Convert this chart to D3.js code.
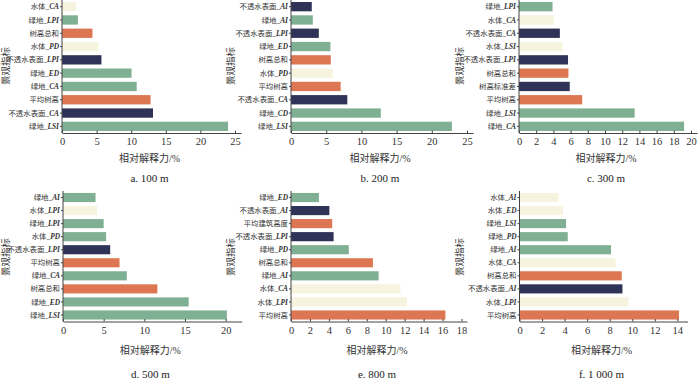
<!DOCTYPE html>
<html><head><meta charset="utf-8">
<script src="https://cdn.jsdelivr.net/npm/d3@7"></script>
<style>
body{margin:0;background:#fff;}
svg{display:block;}
</style></head>
<body>
<svg id="c" width="700" height="380"></svg>
<script>
// ---- data (top to bottom in each panel) ----
const labelsA = ["水体_CA","绿地_LPI","树高总和","水体_PD","不透水表面_LPI","绿地_ED","绿地_CA","平均树高","不透水表面_CA","绿地_LSI"];
const valuesA = [2.0, 2.3, 4.4, 5.25, 5.7, 10.05, 10.8, 12.8, 13.15, 24.0];
const typesA  = ["water","green","tree","water","imp","green","green","tree","imp","green"];

const labelsB = ["不透水表面_AI","绿地_AI","不透水表面_LPI","绿地_ED","树高总和","水体_PD","平均树高","不透水表面_CA","绿地_CD","绿地_LSI"];
const valuesB = [2.95, 3.1, 3.95, 5.6, 5.65, 5.95, 7.05, 8.0, 12.75, 22.85];
const typesB  = ["imp","green","imp","green","tree","water","tree","imp","green","green"];

const labelsC = ["绿地_LPI","水体_CA","不透水表面_CA","水体_LSI","不透水表面_LPI","树高总和","树高标准差","平均树高","绿地_LSI","绿地_CA"];
const valuesC = [3.9, 4.05, 4.75, 5.05, 5.7, 5.75, 5.9, 7.35, 13.45, 19.2];
const typesC  = ["green","water","imp","water","imp","tree","imp","tree","green","green"];

const labelsD = ["绿地_AI","水体_LPI","绿地_LPI","水体_PD","不透水表面_LPI","平均树高","绿地_CA","树高总和","绿地_ED","绿地_LSI"];
const valuesD = [4.0, 4.2, 5.0, 5.3, 5.8, 6.95, 7.85, 11.6, 15.45, 20.15];
const typesD  = ["green","water","green","green","imp","tree","green","tree","green","green"];

const labelsE = ["绿地_ED","不透水表面_AI","平均建筑高度","不透水表面_LPI","绿地_PD","树高总和","绿地_AI","水体_CA","水体_LPI","平均树高"];
const valuesE = [2.95, 4.05, 4.35, 4.5, 6.1, 8.65, 9.25, 11.55, 12.25, 16.3];
const typesE  = ["green","imp","tree","imp","green","tree","green","water","water","tree"];

const labelsF = ["水体_AI","水体_ED","绿地_LSI","绿地_PD","绿地_AI","水体_CA","树高总和","不透水表面_AI","水体_LPI","平均树高"];
const valuesF = [3.45, 3.87, 4.13, 4.28, 8.12, 8.52, 9.07, 9.13, 9.67, 14.15];
const typesF  = ["water","water","green","green","green","water","tree","imp","water","tree"];

const ticksA = [0,5,10,15,20,25];
const ticksB = [0,5,10,15,20,25];
const ticksC = [0,2,4,6,8,10,12,14,16,18,20];
const ticksD = [0,5,10,15,20];
const ticksE = [0,2,4,6,8,10,12,14,16,18];
const ticksF = [0,2,4,6,8,10,12,14];

const captions = ["a.  100 m","b.  200 m","c.  300 m","d.  500 m","e.  800 m","f.  1 000 m"];
const xTitle = "相对解释力/%";
const yTitle = "景观指标";

// ---- styles / layout ----
const palette = {green:"#80b093", imp:"#2e3357", tree:"#dc7653", water:"#f6f3de"};
const serif = "'Liberation Serif','Noto Sans CJK SC',serif";

const panels = [
  {labels:labelsA, values:valuesA, types:typesA, ticks:ticksA, x0:62,  x1:241,   dmax:25.87, row:0, tx:6},
  {labels:labelsB, values:valuesB, types:typesB, ticks:ticksB, x0:291, x1:473,   dmax:25.85, row:0, tx:231},
  {labels:labelsC, values:valuesC, types:typesC, ticks:ticksC, x0:519, x1:697,   dmax:20.7,  row:0, tx:460},
  {labels:labelsD, values:valuesD, types:typesD, ticks:ticksD, x0:63,  x1:241.7, dmax:21.97, row:1, tx:6},
  {labels:labelsE, values:valuesE, types:typesE, ticks:ticksE, x0:291, x1:467,   dmax:18.58, row:1, tx:231},
  {labels:labelsF, values:valuesF, types:typesF, ticks:ticksF, x0:519.5,x1:687.5, dmax:14.9,  row:1, tx:460}
];
const rows = [
  {top:0, bottom:133, tickY:140, titleY:158, capY:178, yMid:66},
  {top:191, bottom:321.5, tickY:329, titleY:350, capY:374, yMid:257}
];

const svg = d3.select("#c");

panels.forEach((p, i) => {
  const r = rows[p.row];
  const x = d3.scaleLinear().domain([0, p.dmax]).range([p.x0, p.x1]);
  const y = d3.scaleBand().domain(p.labels).range([r.top, r.bottom]).paddingInner(0.3).paddingOuter(0.15);
  const g = svg.append("g");

  // bars
  g.selectAll("rect").data(p.labels).enter().append("rect")
    .attr("x", x(0))
    .attr("y", d => y(d))
    .attr("height", y.bandwidth())
    .attr("width", (d, k) => x(p.values[k]) - x(0))
    .attr("fill", (d, k) => palette[p.types[k]]);

  // x axis
  const xa = g.append("g").attr("transform", `translate(0,${r.bottom})`)
    .call(d3.axisBottom(x).tickValues(p.ticks).tickSizeInner(-2.5).tickSizeOuter(0).tickPadding(5));
  xa.select(".domain").attr("stroke","#444");
  xa.selectAll(".tick line").attr("stroke","#444");
  xa.selectAll("text").attr("font-family", serif).attr("font-size", 10.5).attr("fill","#333");

  // y axis
  const ya = g.append("g").attr("transform", `translate(${p.x0},0)`)
    .call(d3.axisLeft(y).tickSizeInner(2).tickSizeOuter(0).tickPadding(2).tickFormat(""));
  ya.select(".domain").attr("stroke","#444").attr("d", `M0,${r.top}V${r.bottom}`);
  ya.selectAll(".tick line").attr("stroke","#444");
  ya.selectAll(".tick").each(function(d) {
    const parts = d.split("_");
    const t = d3.select(this).append("text")
      .attr("x", -3).attr("dy", "0.35em")
      .attr("text-anchor", "end")
      .attr("font-size", 7.4).attr("fill", "#333")
      .attr("font-family", serif);
    t.append("tspan").text(parts[0]);
    if (parts.length > 1) {
      t.append("tspan").text("_");
      t.append("tspan").attr("font-style", "italic").attr("font-weight", "bold").text(parts[1]);
    }
  });

  // axis titles
  g.append("text").attr("x", (p.x0 + p.x1) / 2 - 2).attr("y", r.titleY)
    .attr("text-anchor","middle").attr("dy","0.35em")
    .attr("font-family", serif).attr("font-size", 10).attr("fill","#333").text(xTitle);
  g.append("text").attr("transform", `translate(${p.tx},${r.yMid}) rotate(-90)`)
    .attr("text-anchor","middle").attr("dy","0.35em")
    .attr("font-family", serif).attr("font-size", 9.5).attr("fill","#333").text(yTitle);

  // caption
  g.append("text").attr("x", (p.x0 + p.x1) / 2 - 2).attr("y", r.capY)
    .attr("text-anchor","middle").attr("dy","0.35em")
    .attr("font-family", serif).attr("font-size", 11).attr("fill","#222").text(captions[i]);
});
</script>
</body></html>
